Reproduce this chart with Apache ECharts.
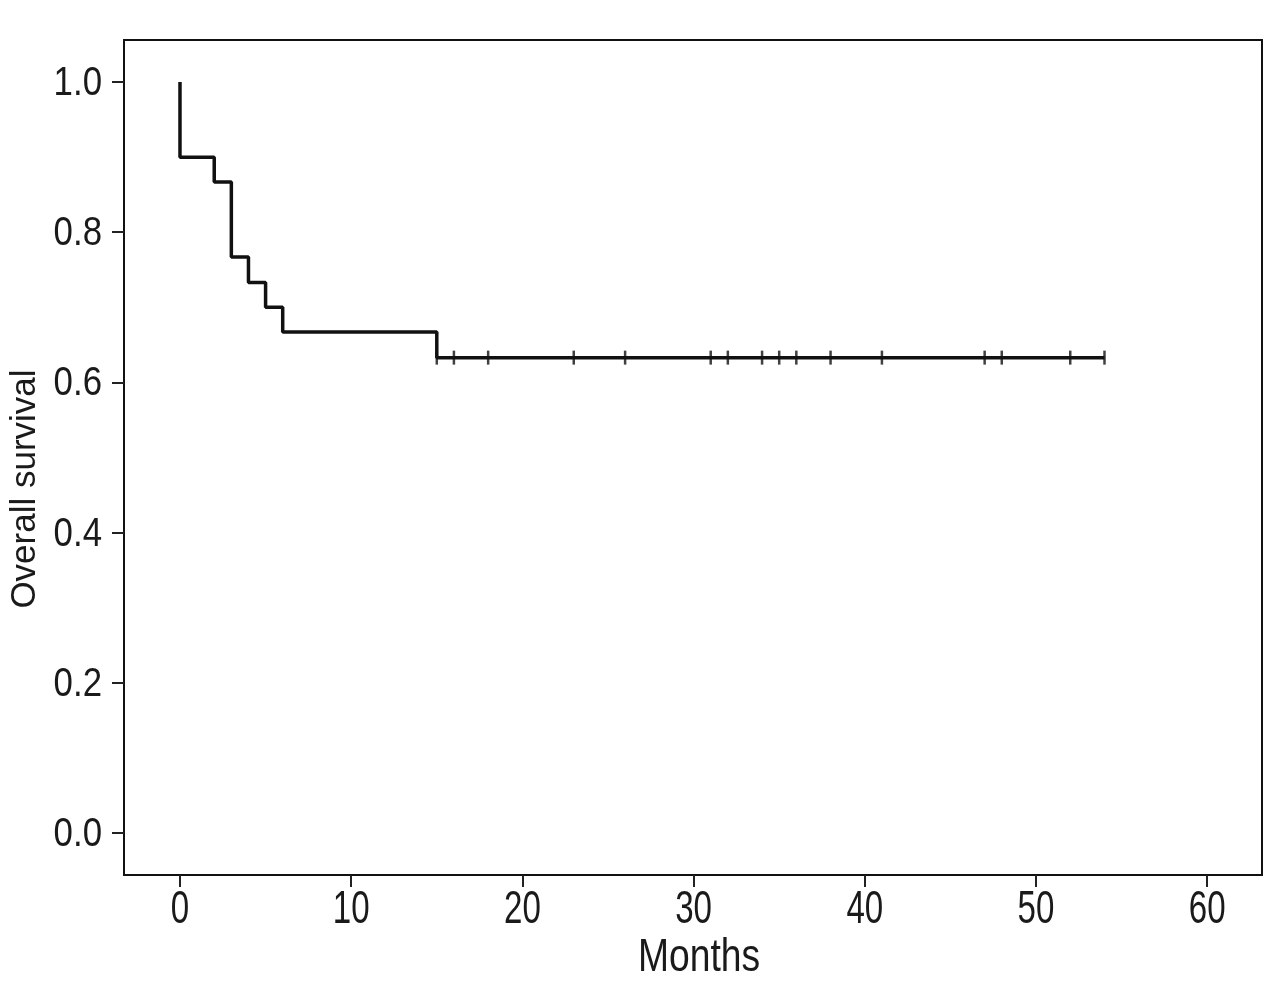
<!DOCTYPE html>
<html>
<head>
<meta charset="utf-8">
<script src="https://cdn.jsdelivr.net/npm/echarts@6/dist/echarts.min.js"></script>
<style>
html,body{margin:0;padding:0;background:#fff;}
#chart{width:1280px;height:990px;}
</style>
</head>
<body>
<div id="chart"></div>
<script>
// Kaplan-Meier step curve: time (months) and survival probability
const stepTimes = [0, 0, 2, 3, 4, 5, 6, 15, 54];
const stepSurvival = [1.0, 0.9, 0.867, 0.767, 0.733, 0.700, 0.667, 0.633, 0.633];
// Censored observations (months)
const censorTimes = [15, 16, 18, 23, 26, 31, 32, 34, 35, 36, 38, 41, 47, 48, 52, 54];
const censorSurvival = 0.633;
// Tick labels
const xTicks = [0, 10, 20, 30, 40, 50, 60];
const yTicks = [0, 0.2, 0.4, 0.6, 0.8, 1.0];

const FONT = "'Liberation Sans', Arial, sans-serif";
const INK = '#1a1a1a';
const chart = echarts.init(document.getElementById('chart'));
const stepData = stepTimes.map((t, i) => [t, stepSurvival[i]]);
const censorData = censorTimes.map(t => [t, censorSurvival]);

chart.setOption({
  animation: false,
  backgroundColor: '#ffffff',
  grid: {
    left: 124, right: 18, top: 40, bottom: 115,
    show: true, borderColor: '#111', borderWidth: 2, backgroundColor: 'transparent'
  },
  xAxis: {
    type: 'value', min: -3.27, max: 63.2,
    axisLine: { show: false, onZero: false },
    splitLine: { show: false },
    axisTick: { show: true, inside: false, length: 12, customValues: xTicks, lineStyle: { color: '#222', width: 2 } },
    axisLabel: { show: false, customValues: xTicks }
  },
  yAxis: {
    type: 'value', min: -0.056, max: 1.056,
    axisLine: { show: false, onZero: false },
    splitLine: { show: false },
    axisTick: { show: true, inside: false, length: 12, customValues: yTicks, lineStyle: { color: '#222', width: 2 } },
    axisLabel: { show: false, customValues: yTicks }
  },
  series: [
    {
      type: 'line', step: 'end', data: stepData, showSymbol: false,
      lineStyle: { color: '#111', width: 3.5 }
    },
    {
      type: 'scatter', data: censorData, symbol: 'rect', symbolSize: [2.5, 14],
      itemStyle: { color: '#111' }
    }
  ]
});

// Condensed tick labels and titles, positioned through the axis scales
const graphics = xTicks.map(v => {
  const px = chart.convertToPixel({ xAxisIndex: 0 }, v);
  return {
    type: 'text', x: px, y: 887, scaleX: 0.72,
    style: { text: String(v), font: '46px ' + FONT, fill: INK, align: 'center', verticalAlign: 'top' }
  };
});
yTicks.forEach(v => {
  const py = chart.convertToPixel({ yAxisIndex: 0 }, v);
  graphics.push({
    type: 'text', x: 102, y: py + 2, scaleX: 0.87,
    style: { text: v.toFixed(1), font: '40px ' + FONT, fill: INK, align: 'right', verticalAlign: 'middle' }
  });
});
graphics.push({
  type: 'text', x: 699, y: 935, scaleX: 0.81,
  style: { text: 'Months', font: '46px ' + FONT, fill: INK, align: 'center', verticalAlign: 'top' }
});
graphics.push({
  type: 'text', x: 43, y: 489, rotation: Math.PI / 2, scaleX: 1,
  style: { text: 'Overall survival', font: '35px ' + FONT, fill: INK, align: 'center', verticalAlign: 'bottom' }
});
chart.setOption({ graphic: graphics });
</script>
</body>
</html>
